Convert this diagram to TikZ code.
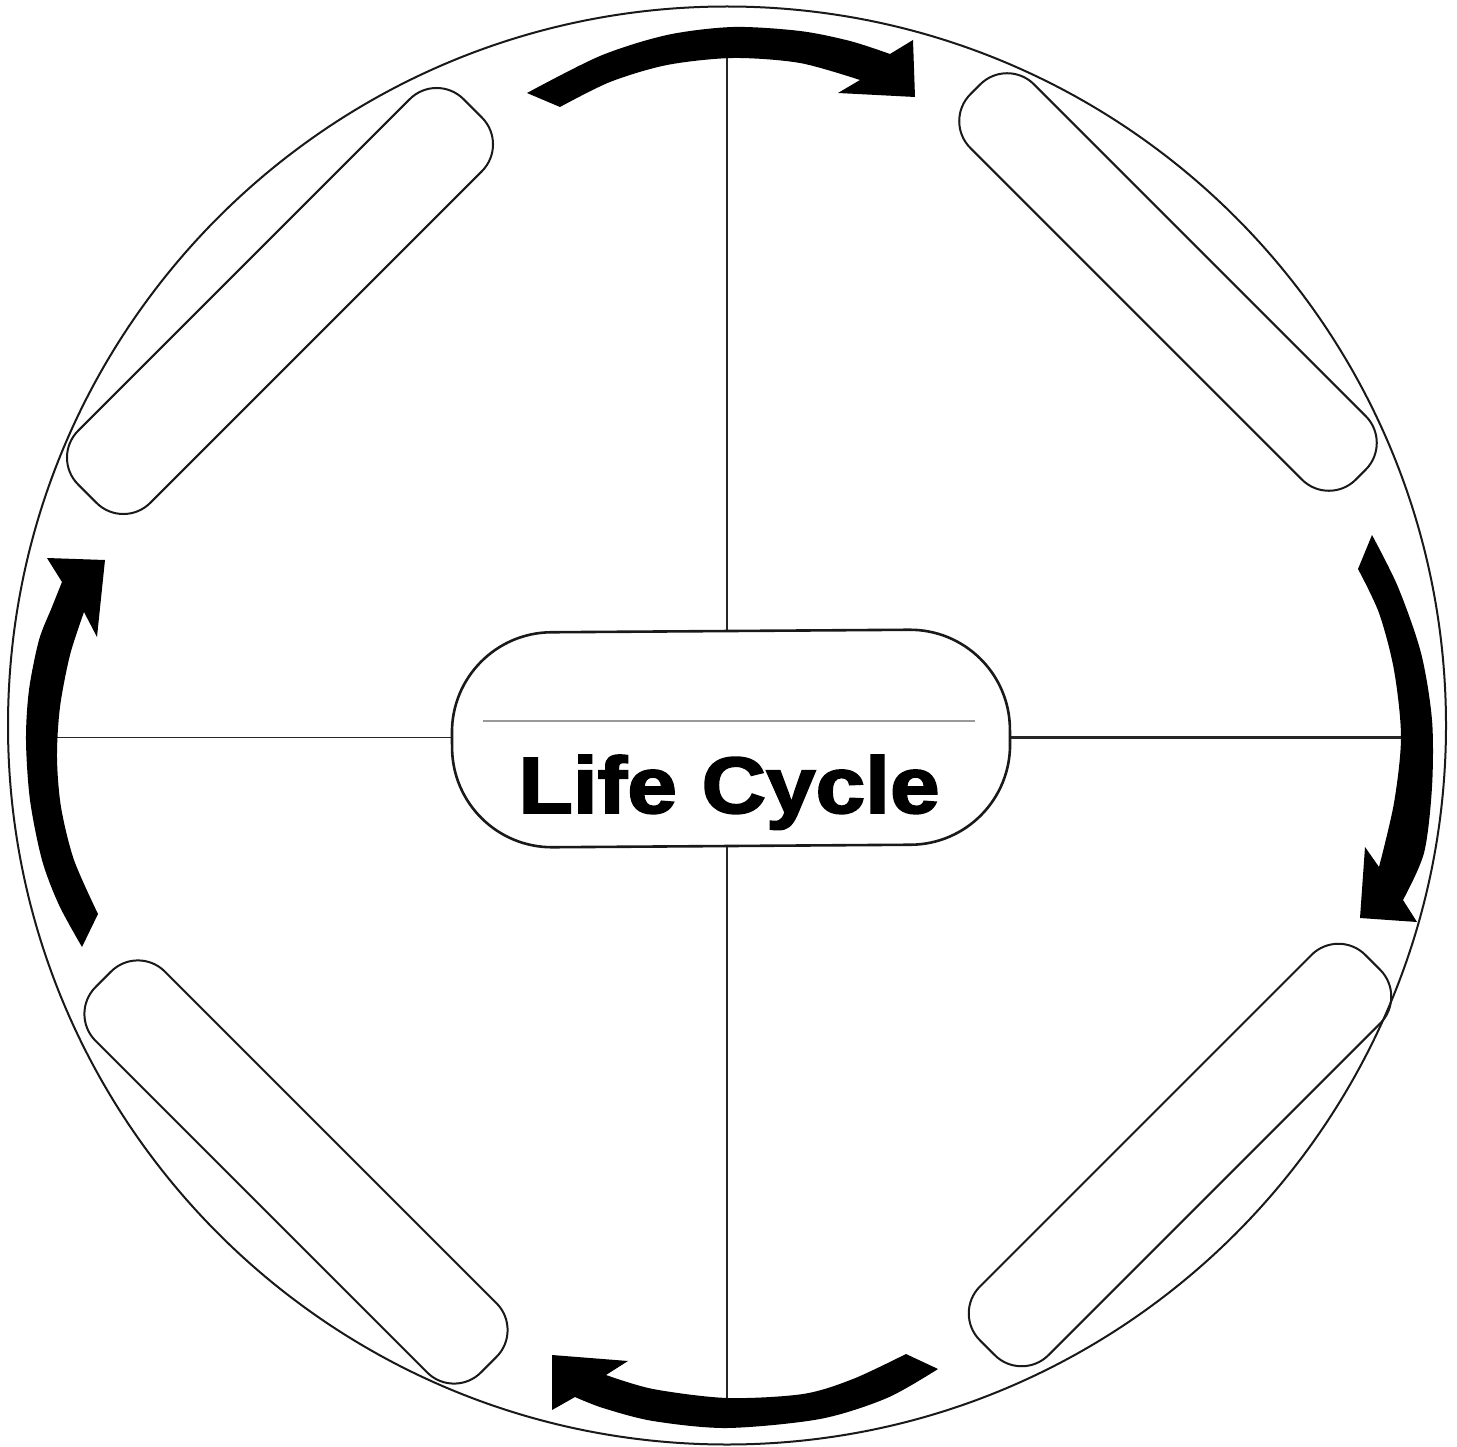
\documentclass[tikz,border=0pt]{standalone}
\usepackage{fontspec}
\newfontfamily\labelfont[FakeBold=2.2]{Liberation Sans}
\begin{document}
\begin{tikzpicture}[x=1pt,y=-1pt,
  ring/.style={draw=black!90, line width=2pt, circle, minimum size=1438pt, inner sep=0pt},
  pill/.style={draw=black!90, line width=2pt, rounded corners=38pt, minimum width=545pt, inner sep=0pt},
  hub/.style={draw=black!90, line width=2.6pt, rounded corners=100pt, minimum width=558pt, minimum height=215pt, inner sep=0pt},
  spoke/.style={draw=black!85, line width=1.8pt},
  bigarrow/.style={fill=black}
]
\useasboundingbox (0,0) rectangle (1457,1447);
\fill[white] (0,0) rectangle (1457,1447);

% outer circle
\node[ring] (ring) at (727,725.5) {};

% four slanted pills
\node[pill, minimum height=102pt, rotate=45]  (pTL) at (280,301) {};
\node[pill, minimum height=90pt,  rotate=-45] (pTR) at (1168,282) {};
\node[pill, minimum height=98pt,  rotate=-45] (pBL) at (296,1172) {};
\node[pill, minimum height=97pt,  rotate=45]  (pBR) at (1180,1155) {};

% centre box
\node[hub, rotate=0.4] (cb) at (731,738.5) {};
\draw[gray!80, line width=1.2pt] (483,721) -- (975,721);
\node[anchor=base, inner sep=0pt] (lbl) at (729,813)
  {\scalebox{1.115}[1]{\labelfont\bfseries\fontsize{80}{92}\selectfont Life Cycle}};

% spokes
\coordinate (sTop) at (727,55);
\coordinate (sBot) at (727,1407);
\coordinate (sLeft) at (40,737.5);
\coordinate (sRight) at (1413,737);
\draw[spoke, line width=1.6pt] (sTop) -- (sTop |- cb.north);
\draw[spoke, line width=2.6pt] (sBot) -- (sBot |- cb.south);
\draw[spoke, line width=1.6pt] (sLeft) -- (sLeft -| cb.west);
\draw[spoke, line width=3pt] (sRight) -- (sRight -| cb.east);

% top arrow (clockwise, pointing right)
\fill[bigarrow] plot[smooth] coordinates {(527,93) (600,56) (667,35) (733,27) (800,31) (850,41) (890,54)}
  -- (913,40) -- (915,97) -- (838,93) -- (860,80)
  -- plot[smooth] coordinates {(860,80) (800,63) (733,58) (667,65) (610,82) (560,107)}
  -- cycle;

% right arrow (pointing down)
\fill[bigarrow] plot[smooth] coordinates {(1372,535) (1398,587) (1421,653) (1432,720) (1432,787) (1424,853) (1403,900)}
  -- (1417,922) -- (1360,918) -- (1365,847) -- (1379,867)
  -- plot[smooth] coordinates {(1379,867) (1394,803) (1401,737) (1394,670) (1379,613) (1358,569)}
  -- cycle;

% bottom arrow (pointing left)
\fill[bigarrow] plot[smooth] coordinates {(938,1369) (887,1398) (820,1419) (727,1428) (653,1421) (603,1408) (575,1397)}
  -- (552,1410) -- (552,1355) -- (628,1361) -- (606,1375)
  -- plot[smooth] coordinates {(606,1375) (653,1389) (727,1398) (803,1394) (853,1379) (906,1354)}
  -- cycle;

% left arrow (pointing up)
\fill[bigarrow] plot[smooth] coordinates {(82,947) (59,905) (42,860) (30,800) (26,740) (29,690) (39,640) (52,607) (62,582)}
  -- (47,558) -- (105,560) -- (97,637) -- (84,612)
  -- plot[smooth] coordinates {(84,612) (70,655) (60,707) (57,757) (61,807) (74,860) (98,914)}
  -- cycle;
\end{tikzpicture}
\end{document}
